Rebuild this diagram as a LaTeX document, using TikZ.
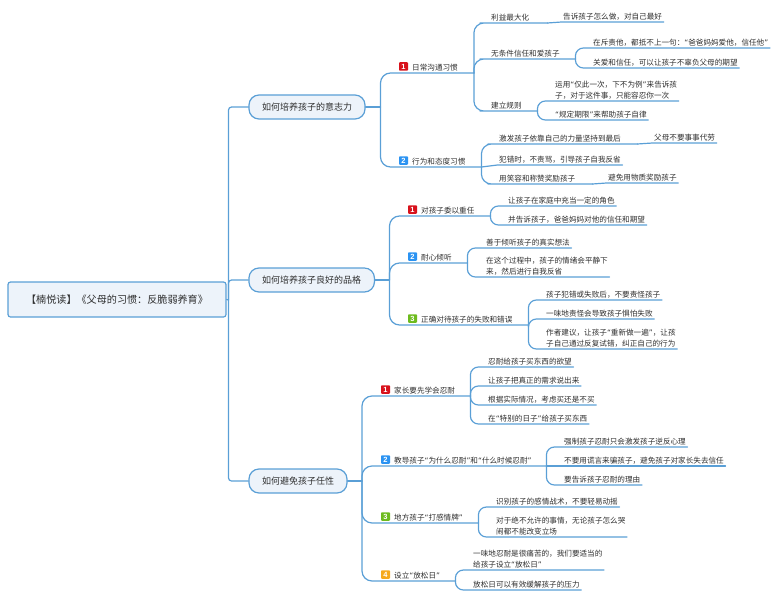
\documentclass[tikz,border=0pt]{standalone}
\usepackage{fontspec}
\setmainfont{Noto Sans CJK SC}
\newfontfamily\qf{DejaVu Sans}
\newfontfamily\bdgf{Liberation Sans}[BoldFont={Liberation Sans Bold}]
\newcommand{\qL}{{\qf “}}
\newcommand{\qR}{{\qf ”}}
\newcommand{\sut}{\rule[-2.6pt]{0pt}{8pt}}
\definecolor{linkc}{HTML}{5A9FD6}
\definecolor{inkc}{HTML}{2E2E2E}
\definecolor{fillc}{HTML}{EDF3FA}
\definecolor{b1}{HTML}{D8121C}
\definecolor{b2}{HTML}{2B93F2}
\definecolor{b3}{HTML}{6DBB1E}
\definecolor{b4}{HTML}{F6A91C}
\tikzset{
  x=1pt,y=-1pt,
  link/.style={draw=linkc,line width=1.2pt,line cap=round},
  leaf/.style={anchor=south west,inner xsep=1.5pt,inner ysep=0pt,text=inkc,align=left,
    font=\fontsize{7.6}{10.8}\selectfont,execute at begin node=\sut},
  wide/.style={text width=#1pt-3pt},
  topic/.style={draw=linkc,line width=1.2pt,fill=fillc,rounded corners=10pt,text=inkc,
    inner sep=0pt,font=\fontsize{9}{11}\selectfont,minimum height=24pt},
  rootbox/.style={draw=linkc,line width=1.2pt,fill=fillc,rounded corners=2.5pt,text=inkc,
    inner sep=0pt,font=\fontsize{10.1}{12}\selectfont,minimum height=35pt,minimum width=218pt},
  badge/.style={rounded corners=0.8pt,inner sep=0pt,minimum width=9pt,minimum height=8.5pt,
    text=white,font=\bdgf\bfseries\fontsize{7.5}{8}\selectfont},
}
\newcommand{\lnk}[3][8]{\draw[link,rounded corners=#1pt] (#2) |- (#3.south west) -- (#3.south east);}
\newcommand{\lnkS}[2]{\draw[link] (#1) -- (#2.south west) -- (#2.south east);}
\begin{document}
\begin{tikzpicture}
\useasboundingbox (0,0) rectangle (778,599);
% root and topics
\node[rootbox] (root) at (117,299.5) {【楠悦读】《父母的习惯：反脆弱养育》};
\node[topic,minimum width=116pt] (t1) at (307,107) {如何培养孩子的意志力};
\node[topic,minimum width=125.5pt] (t2) at (311.7,280) {如何培养孩子良好的品格};
\node[topic,minimum width=98pt] (t3) at (298,481) {如何避免孩子任性};
\coordinate (rj) at (228.5,300);
\draw[link] (root.east) -- (rj);
\foreach \t in {t1,t2,t3}{\draw[link,rounded corners=3pt] (rj) |- (\t.west);}
% junctions
\coordinate (j1) at (380.5,107);
\coordinate (j2) at (389.5,280);
\coordinate (j3) at (362,481);
\draw[link] (t1.east) -- (j1);
\draw[link] (t2.east) -- (j2);
\draw[link] (t3.east) -- (j3);

% ---- topic 1
\node[leaf,wide=63] (a1) at (410.5,73) {日常沟通习惯};
\node[leaf,wide=70.5] (a2) at (410.5,167) {行为和态度习惯};
\node[badge,fill=b1] (ba1) at (403.5,66.5) {1};
\node[badge,fill=b2] (ba2) at (403.5,160.5) {2};
\lnk[10]{j1}{a1}\lnk[10]{j1}{a2}
\node[leaf,wide=57.5] (a11) at (489.5,23) {利益最大化};
\node[leaf,wide=85.5] (a12) at (489.5,59) {无条件信任和爱孩子};
\node[leaf,wide=47.5] (a13) at (489.5,111) {建立规则};
\lnk[10]{a1.south east}{a11}\lnk[10]{a1.south east}{a12}\lnk[10]{a1.south east}{a13}
\node[leaf] (a111) at (561.5,22) {告诉孩子怎么做，对自己最好};
\lnkS{a11.south east}{a111}
\node[leaf] (a121) at (591.5,48) {在斥责他，都抵不上一句：\qL 爸爸妈妈爱他，信任他\qR};
\node[leaf] (a122) at (591.5,68) {关爱和信任，可以让孩子不辜负父母的期望};
\lnk{a12.south east}{a121}\lnk{a12.south east}{a122}
\node[leaf] (a131) at (553.5,101) {运用\qL 仅此一次，下不为例\qR 来告诉孩\\\sut 子，对于这件事，只能容忍你一次};
\node[leaf] (a132) at (553.5,120) {\qL 规定期限\qR 来帮助孩子自律};
\lnk{a13.south east}{a131}\lnk{a13.south east}{a132}
\node[leaf,wide=139.5] (a21) at (497.5,144) {激发孩子依靠自己的力量坚持到最后};
\node[leaf] (a22) at (497.5,165) {犯错时，不责骂，引导孩子自我反省};
\node[leaf,wide=94.5] (a23) at (497.5,184) {用笑容和称赞奖励孩子};
\lnk[10]{a2.south east}{a21}\lnkS{a2.south east}{a22}\lnk[10]{a2.south east}{a23}
\node[leaf] (a211) at (652.5,143) {父母不要事事代劳};
\lnkS{a21.south east}{a211}
\node[leaf] (a231) at (606.5,183) {避免用物质奖励孩子};
\lnkS{a23.south east}{a231}

% ---- topic 2
\node[leaf,wide=70.5] (c1) at (419.5,216) {对孩子委以重任};
\node[leaf,wide=47.5] (c2) at (419.5,263) {耐心倾听};
\node[leaf,wide=108.5] (c3) at (419.5,325) {正确对待孩子的失败和错误};
\node[badge,fill=b1] (bc1) at (412.5,209.5) {1};
\node[badge,fill=b2] (bc2) at (412.5,256.5) {2};
\node[badge,fill=b3] (bc3) at (412.5,318.5) {3};
\lnk[10]{j2}{c1}\lnk[10]{j2}{c2}\lnk[10]{j2}{c3}
\node[leaf] (c11) at (506.5,206) {让孩子在家庭中充当一定的角色};
\node[leaf] (c12) at (506.5,225) {并告诉孩子，爸爸妈妈对他的信任和期望};
\lnk{c1.south east}{c11}\lnk{c1.south east}{c12}
\node[leaf] (c21) at (484.5,248) {善于倾听孩子的真实想法};
\node[leaf] (c22) at (484.5,277) {在这个过程中，孩子的情绪会平静下\\\sut 来，然后进行自我反省};
\lnk{c2.south east}{c21}\lnk{c2.south east}{c22}
\node[leaf] (c31) at (544.5,300) {孩子犯错或失败后，不要责怪孩子};
\node[leaf] (c32) at (544.5,319) {一味地责怪会导致孩子惧怕失败};
\node[leaf] (c33) at (544.5,349) {作者建议，让孩子\qL 重新做一遍\qR ，让孩\\\sut 子自己通过反复试错，纠正自己的行为};
\lnk{c3.south east}{c31}\lnk{c3.south east}{c32}\lnk{c3.south east}{c33}

% ---- topic 3
\node[leaf,wide=77.5] (d1) at (392.5,396) {家长要先学会忍耐};
\node[leaf,wide=153.5] (d2) at (392.5,466) {教导孩子\qL 为什么忍耐\qR 和\qL 什么时候忍耐\qR};
\node[leaf,wide=85.5] (d3) at (392.5,523) {地方孩子\qL 打感情牌\qR};
\node[leaf,wide=62.5] (d4) at (392.5,581) {设立\qL 放松日\qR};
\node[badge,fill=b1] (bd1) at (385.5,389.5) {1};
\node[badge,fill=b2] (bd2) at (385.5,459.5) {2};
\node[badge,fill=b3] (bd3) at (385.5,516.5) {3};
\node[badge,fill=b4] (bd4) at (385.5,574.5) {4};
\lnk[10]{j3}{d1}\lnk[10]{j3}{d2}\lnk[10]{j3}{d3}\lnk[10]{j3}{d4}
\node[leaf] (d11) at (486.5,367) {忍耐给孩子买东西的欲望};
\node[leaf] (d12) at (486.5,386) {让孩子把真正的需求说出来};
\node[leaf] (d13) at (486.5,405) {根据实际情况，考虑买还是不买};
\node[leaf] (d14) at (486.5,424) {在\qL 特别的日子\qR 给孩子买东西};
\lnk{d1.south east}{d11}\lnk{d1.south east}{d12}\lnk{d1.south east}{d13}\lnk{d1.south east}{d14}
\node[leaf] (d21) at (562.5,447) {强制孩子忍耐只会激发孩子逆反心理};
\node[leaf] (d22) at (562.5,466) {不要用谎言来骗孩子，避免孩子对家长失去信任};
\node[leaf] (d23) at (562.5,485) {要告诉孩子忍耐的理由};
\lnk{d2.south east}{d21}\lnkS{d2.south east}{d22}\lnk{d2.south east}{d23}
\node[leaf] (d31) at (494.5,507) {识别孩子的感情战术，不要轻易动摇};
\node[leaf] (d32) at (494.5,537) {对于绝不允许的事情，无论孩子怎么哭\\\sut 闹都不能改变立场};
\lnk{d3.south east}{d31}\lnk{d3.south east}{d32}
\node[leaf] (d41) at (471.5,570) {一味地忍耐是很痛苦的，我们要适当的\\\sut 给孩子设立\qL 放松日\qR};
\node[leaf] (d42) at (471.5,590) {放松日可以有效缓解孩子的压力};
\lnk{d4.south east}{d41}\lnk{d4.south east}{d42}
\end{tikzpicture}
\end{document}
